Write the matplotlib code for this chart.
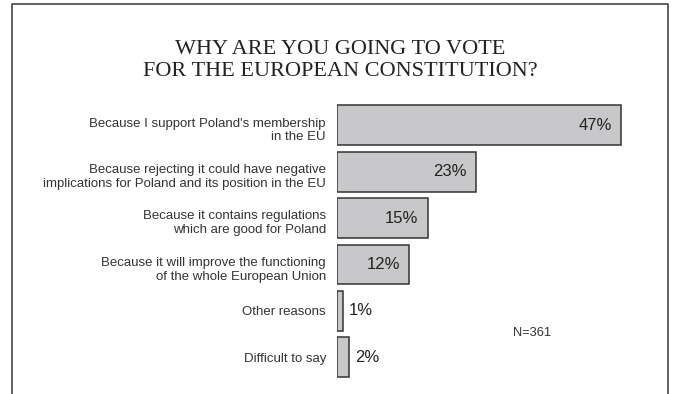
import matplotlib
matplotlib.use("Agg")
import matplotlib.pyplot as plt
from matplotlib.lines import Line2D


categories = [
    "Because I support Poland's membership\nin the EU",
    "Because rejecting it could have negative\nimplications for Poland and its position in the EU",
    "Because it contains regulations\nwhich are good for Poland",
    "Because it will improve the functioning\nof the whole European Union",
    "Other reasons",
    "Difficult to say",
]
values = [47, 23, 15, 12, 1, 2]
title = "WHY ARE YOU GOING TO VOTE\nFOR THE EUROPEAN CONSTITUTION?"
note = "N=361"

W, H = 677, 394
bar_face = "#c8c8ca"
bar_edge = "#333333"


def main():
    fig = plt.figure(figsize=(W / 100, H / 100), dpi=100)

    # axes placed in pixel terms: bars start at x=337, 6.04 px per percent
    left, right_px = 337, 337 + 50 * 6.04
    top_px, bot_px = 102.1, 380.5
    ax = fig.add_axes([left / W, 1 - bot_px / H, (right_px - left) / W, (bot_px - top_px) / H])

    y = list(range(len(values)))
    ax.barh(y, values, height=0.86, color=bar_face, edgecolor=bar_edge, linewidth=1.1)
    ax.set_xlim(0, 50)
    ax.set_ylim(len(values) - 0.5, -0.5)
    ax.set_xticks([])
    ax.set_yticks([])
    for s in ax.spines.values():
        s.set_visible(False)
    ax.patch.set_alpha(0)

    # category labels, right aligned left of the bars (two-line ones sit a bit lower)
    for yi, lab in zip(y, categories):
        dy = -2 if "\n" in lab else 0
        ax.annotate(lab, (0, yi), xycoords=("axes fraction", "data"),
                    xytext=(-8, dy), textcoords="offset points",
                    ha="right", va="center_baseline", multialignment="right",
                    fontsize=9.5, color="#333333", family="Liberation Sans",
                    linespacing=1.2)

    for yi, v in zip(y, values):
        if v >= 5:
            ax.annotate(f"{v}%", (v, yi), xytext=(-6.5, 0), textcoords="offset points",
                        ha="right", va="center", fontsize=12, color="#222222",
                        family="Liberation Sans")
        else:
            ax.annotate(f"{v}%", (v, yi), xytext=(4, 0), textcoords="offset points",
                        ha="left", va="center", fontsize=12, color="#222222",
                        family="Liberation Sans")

    fig.text(532 / W, 1 - 333 / H, note, ha="center", va="center", fontsize=9.3,
             color="#333333", family="Liberation Sans")

    fig.text(340 / W, 1 - 60.5 / H, title, ha="center", va="center", fontsize=16,
             family="Liberation Serif", color="#222222", linespacing=1.25)

    # open-bottom frame round the chart
    xs = [11.5 / W, 11.5 / W, 668 / W, 668 / W]
    ys = [0, 1 - 3.5 / H, 1 - 3.5 / H, 0]
    fig.add_artist(Line2D(xs, ys, transform=fig.transFigure, color="#555555", linewidth=1.3))

    fig.savefig("out.png", dpi=100)


if __name__ == "__main__":
    main()
